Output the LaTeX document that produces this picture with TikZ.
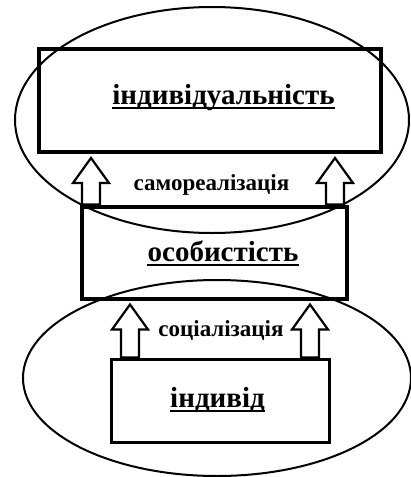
\documentclass[tikz,border=0pt]{standalone}
\usepackage{fontspec}
\setmainfont{Liberation Serif}
\usetikzlibrary{calc}

\tikzset{
  oval/.style={line width=2pt},
  stagebox/.style={draw, line width=#1, inner sep=0pt, fill=none},
  stagebox/.default=4pt,
  title/.style={font=\bfseries\fontsize{29}{33}\selectfont, inner sep=0pt, anchor=base},
  process/.style={font=\bfseries\fontsize{23}{27}\selectfont, inner sep=0pt, anchor=base},
  underscore/.style={line width=1.8pt},
  blockarrow/.style={draw, line width=2.2pt, fill=white, line join=miter},
}

% hollow block arrow from a base point up to a tip point
\newcommand\blockup[2]{%
  \draw[blockarrow] let \p1=#1, \p2=#2 in
    (\x1-9pt,\y1) -- (\x1-9pt,\y2-25pt) -- (\x1-18pt,\y2-25pt) -- (\x1,\y2)
    -- (\x1+18pt,\y2-25pt) -- (\x1+9pt,\y2-25pt) -- (\x1+9pt,\y1) -- cycle;}

% underline a title node just below its baseline
\newcommand\underscore[1]{%
  \draw[underscore] ($(#1.base west)+(0,4)$) -- ($(#1.base east)+(0,4)$);}

\begin{document}
\begin{tikzpicture}[x=1pt,y=-1pt]
  \useasboundingbox (0,0) rectangle (411,477);
  \fill[white] (0,0) rectangle (411,477);

  % stage boxes
  \node[stagebox, minimum width=342pt, minimum height=103pt] (top) at (210,100.5) {};
  \node[stagebox, minimum width=265pt, minimum height=92pt] (mid) at (214.5,252.5) {};
  \node[stagebox=3pt, minimum width=218pt, minimum height=83pt] (bot) at (220,400.5) {};

  % surrounding ovals
  \draw[oval] (212,120) ellipse [x radius=197, y radius=113];
  \draw[oval] (217,378) ellipse [x radius=194, y radius=98];

  % stage names
  \node[title] (tind) at (223.5,104) {індивідуальність};
  \node[title] (tmid) at (223,261) {особистість};
  \node[title] (tbot) at (217.5,407) {індивід};
  \underscore{tind}
  \underscore{tmid}
  \underscore{tbot}

  % transitions between stages
  \blockup{(91,0 |- mid.north)}{($(91,0 |- top.south)+(0,4)$)}
  \blockup{(335,0 |- mid.north)}{($(335,0 |- top.south)+(0,4)$)}
  \blockup{(130,0 |- bot.north)}{($(130,0 |- mid.south)+(0,4)$)}
  \blockup{(310,0 |- bot.north)}{($(310,0 |- mid.south)+(0,4)$)}

  \node[process] (self) at (211.5,190) {самореалізація};
  \node[process] (soc) at (221,336) {соціалізація};
\end{tikzpicture}
\end{document}
